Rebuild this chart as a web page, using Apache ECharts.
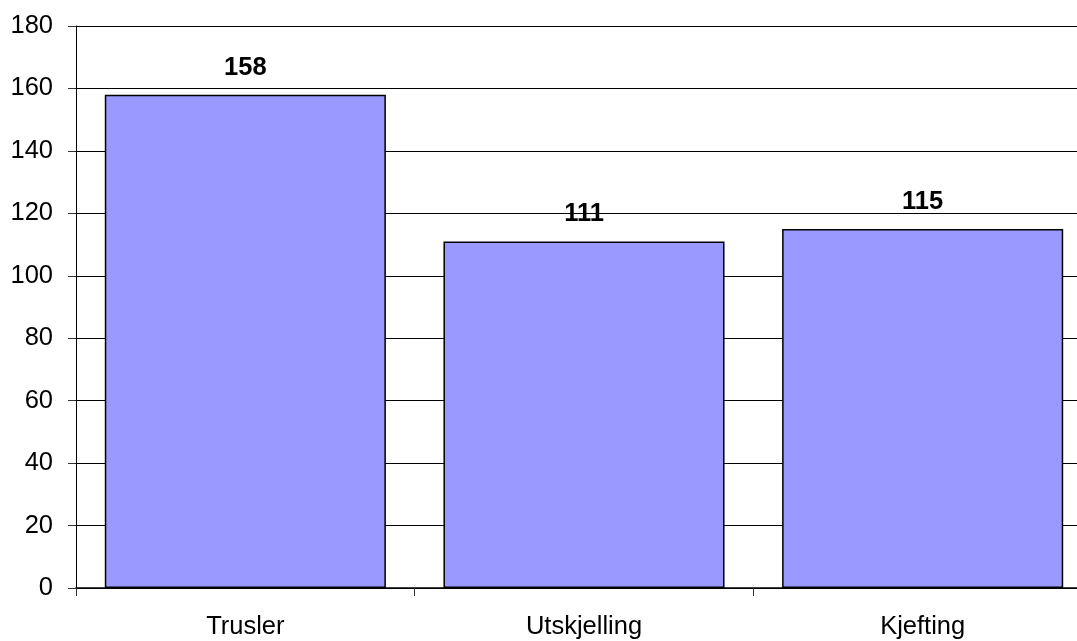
<!DOCTYPE html>
<html>
<head>
<meta charset="utf-8">
<script src="https://cdn.jsdelivr.net/npm/echarts@6/dist/echarts.min.js"></script>
<style>
    html, body { margin: 0; padding: 0; background: #fff; overflow: hidden; }
    #chart { width: 1092px; height: 641px; }
</style>
</head>
<body>
<div id="chart"></div>
<script>
// kategorier og verdier
var categories = ['Trusler', 'Utskjelling', 'Kjefting'];
var values = [158, 111, 115];
var yTicks = [0, 20, 40, 60, 80, 100, 120, 140, 160, 180];

var myChart = echarts.init(document.getElementById('chart'));

var option = {
    animation: false,
    textStyle: { fontFamily: 'Liberation Sans, Arial, sans-serif' },
    grid: { left: 76, right: 0, top: 26, bottom: 53, containLabel: false },
    xAxis: {
        type: 'category',
        data: categories,
        axisLine: { lineStyle: { color: '#000', width: 1.5 } },
        axisTick: { show: true, length: 8, lineStyle: { color: '#333' } },
        axisLabel: { color: '#000', fontSize: 25.5, margin: 26 }
    },
    yAxis: {
        type: 'value',
        min: yTicks[0],
        max: yTicks[yTicks.length - 1],
        interval: 20,
        axisLine: { show: true, lineStyle: { color: '#000', width: 1 } },
        axisTick: { show: true, length: 8, lineStyle: { color: '#333' } },
        axisLabel: { color: '#000', fontSize: 25.5, margin: 23 },
        splitLine: { show: true, lineStyle: { color: '#000', width: 1 } }
    },
    series: [{
        type: 'bar',
        data: values,
        barCategoryGap: '17%',
        itemStyle: { color: '#9999ff', borderColor: '#000', borderWidth: 1.5 },
        label: {
            show: true,
            position: 'top',
            distance: 14,
            color: '#000',
            fontSize: 25.5,
            fontWeight: 'bold'
        }
    }]
};

myChart.setOption(option);
</script>
</body>
</html>
